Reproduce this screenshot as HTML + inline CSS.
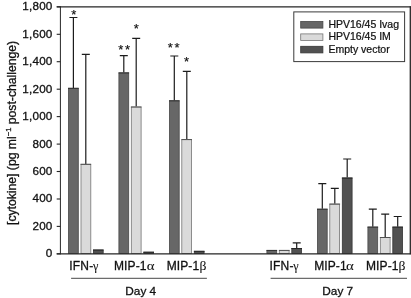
<!DOCTYPE html>
<html><head><meta charset="utf-8"><title>Cytokine chart</title>
<style>
html,body{margin:0;padding:0;background:#fff;}
svg{display:block;will-change:transform;}
text{font-family:"Liberation Sans",sans-serif;fill:#111;stroke:#111;stroke-width:0.3px;}
.as text{stroke-width:0.15px;}
.lg text{stroke-width:0.22px;}
text.gk{font-family:"Liberation Serif",serif;stroke-width:0.05px;}
</style></head><body>
<svg width="411" height="298" viewBox="0 0 411 298">
<rect width="411" height="298" fill="#fff"/>
<path d="M73.4 87.9V17.5M69.4 17.5H77.4" stroke="#1c1c1c" stroke-width="1.2" fill="none"/>
<rect x="68.5" y="88.3" width="9.8" height="165.2" fill="#676767" stroke="#484848" stroke-width="0.8"/>
<path d="M68.1 88.3H78.7" stroke="#2a2a2a" stroke-width="0.9"/>
<path d="M85.8 163.9V54.4M81.8 54.4H89.8" stroke="#1c1c1c" stroke-width="1.2" fill="none"/>
<rect x="81.0" y="164.3" width="9.8" height="89.2" fill="#dadada" stroke="#757575" stroke-width="0.8"/>
<path d="M80.5 164.3H91.1" stroke="#4a4a4a" stroke-width="0.9"/>
<rect x="93.4" y="250.0" width="9.8" height="3.5" fill="#515151" stroke="#363636" stroke-width="0.8"/>
<path d="M93.0 250.0H103.6" stroke="#222222" stroke-width="0.9"/>
<path d="M123.8 72.5V55.7M119.8 55.7H127.8" stroke="#1c1c1c" stroke-width="1.2" fill="none"/>
<rect x="118.9" y="72.9" width="9.8" height="180.6" fill="#676767" stroke="#484848" stroke-width="0.8"/>
<path d="M118.5 72.9H129.1" stroke="#2a2a2a" stroke-width="0.9"/>
<path d="M136.2 106.6V38.4M132.2 38.4H140.2" stroke="#1c1c1c" stroke-width="1.2" fill="none"/>
<rect x="131.3" y="107.0" width="9.8" height="146.5" fill="#dadada" stroke="#757575" stroke-width="0.8"/>
<path d="M130.9 107.0H141.5" stroke="#4a4a4a" stroke-width="0.9"/>
<rect x="143.8" y="252.2" width="9.8" height="1.3" fill="#515151" stroke="#363636" stroke-width="0.8"/>
<path d="M143.4 252.2H154.0" stroke="#222222" stroke-width="0.9"/>
<path d="M174.3 100.4V56.0M170.3 56.0H178.3" stroke="#1c1c1c" stroke-width="1.2" fill="none"/>
<rect x="169.4" y="100.8" width="9.8" height="152.7" fill="#676767" stroke="#484848" stroke-width="0.8"/>
<path d="M169.0 100.8H179.6" stroke="#2a2a2a" stroke-width="0.9"/>
<path d="M186.8 139.2V71.3M182.8 71.3H190.8" stroke="#1c1c1c" stroke-width="1.2" fill="none"/>
<rect x="181.8" y="139.6" width="9.8" height="113.9" fill="#dadada" stroke="#757575" stroke-width="0.8"/>
<path d="M181.4 139.6H192.0" stroke="#4a4a4a" stroke-width="0.9"/>
<rect x="194.3" y="251.3" width="9.8" height="2.2" fill="#515151" stroke="#363636" stroke-width="0.8"/>
<path d="M193.9 251.3H204.5" stroke="#222222" stroke-width="0.9"/>
<rect x="266.9" y="250.4" width="9.8" height="3.1" fill="#676767" stroke="#484848" stroke-width="0.8"/>
<path d="M266.5 250.4H277.1" stroke="#2a2a2a" stroke-width="0.9"/>
<rect x="279.3" y="250.4" width="9.8" height="3.1" fill="#dadada" stroke="#757575" stroke-width="0.8"/>
<path d="M278.9 250.4H289.6" stroke="#4a4a4a" stroke-width="0.9"/>
<path d="M296.7 248.1V242.8M292.7 242.8H300.7" stroke="#1c1c1c" stroke-width="1.2" fill="none"/>
<rect x="291.8" y="248.5" width="9.8" height="5.0" fill="#515151" stroke="#363636" stroke-width="0.8"/>
<path d="M291.4 248.5H302.0" stroke="#222222" stroke-width="0.9"/>
<path d="M322.3 208.8V183.6M318.3 183.6H326.3" stroke="#1c1c1c" stroke-width="1.2" fill="none"/>
<rect x="317.4" y="209.2" width="9.8" height="44.3" fill="#676767" stroke="#484848" stroke-width="0.8"/>
<path d="M317.0 209.2H327.6" stroke="#2a2a2a" stroke-width="0.9"/>
<path d="M334.8 203.7V188.3M330.8 188.3H338.8" stroke="#1c1c1c" stroke-width="1.2" fill="none"/>
<rect x="329.8" y="204.1" width="9.8" height="49.4" fill="#dadada" stroke="#757575" stroke-width="0.8"/>
<path d="M329.4 204.1H340.1" stroke="#4a4a4a" stroke-width="0.9"/>
<path d="M347.2 177.6V159.0M343.2 159.0H351.2" stroke="#1c1c1c" stroke-width="1.2" fill="none"/>
<rect x="342.3" y="178.0" width="9.8" height="75.5" fill="#515151" stroke="#363636" stroke-width="0.8"/>
<path d="M341.9 178.0H352.5" stroke="#222222" stroke-width="0.9"/>
<path d="M372.8 226.7V209.1M368.8 209.1H376.8" stroke="#1c1c1c" stroke-width="1.2" fill="none"/>
<rect x="367.9" y="227.1" width="9.8" height="26.4" fill="#676767" stroke="#484848" stroke-width="0.8"/>
<path d="M367.5 227.1H378.1" stroke="#2a2a2a" stroke-width="0.9"/>
<path d="M385.2 237.1V214.1M381.2 214.1H389.2" stroke="#1c1c1c" stroke-width="1.2" fill="none"/>
<rect x="380.3" y="237.5" width="9.8" height="16.0" fill="#dadada" stroke="#757575" stroke-width="0.8"/>
<path d="M379.9 237.5H390.6" stroke="#4a4a4a" stroke-width="0.9"/>
<path d="M397.7 226.7V216.5M393.7 216.5H401.7" stroke="#1c1c1c" stroke-width="1.2" fill="none"/>
<rect x="392.8" y="227.1" width="9.8" height="26.4" fill="#515151" stroke="#363636" stroke-width="0.8"/>
<path d="M392.4 227.1H403.0" stroke="#222222" stroke-width="0.9"/>
<!-- axes frame -->
<path d="M60.4 6.3V254.3" fill="none" stroke="#262626" stroke-width="1"/>
<path d="M56.7 6.9H410.9M56.7 253.8H410.9" fill="none" stroke="#262626" stroke-width="1.15"/>
<path d="M410.3 6.3V254.3" fill="none" stroke="#262626" stroke-width="1.3"/>
<path d="M56.7 253.8H60.4" stroke="#262626" stroke-width="1.1"/>
<text x="52.6" y="257.2" text-anchor="end" font-size="11.7" letter-spacing="0.22">0</text>
<path d="M56.7 226.4H60.4" stroke="#262626" stroke-width="1.1"/>
<text x="52.6" y="229.8" text-anchor="end" font-size="11.7" letter-spacing="0.22">200</text>
<path d="M56.7 199.0H60.4" stroke="#262626" stroke-width="1.1"/>
<text x="52.6" y="202.4" text-anchor="end" font-size="11.7" letter-spacing="0.22">400</text>
<path d="M56.7 171.5H60.4" stroke="#262626" stroke-width="1.1"/>
<text x="52.6" y="174.9" text-anchor="end" font-size="11.7" letter-spacing="0.22">600</text>
<path d="M56.7 144.1H60.4" stroke="#262626" stroke-width="1.1"/>
<text x="52.6" y="147.5" text-anchor="end" font-size="11.7" letter-spacing="0.22">800</text>
<path d="M56.7 116.6H60.4" stroke="#262626" stroke-width="1.1"/>
<text x="52.6" y="120.0" text-anchor="end" font-size="11.7" letter-spacing="0.22">1,000</text>
<path d="M56.7 89.2H60.4" stroke="#262626" stroke-width="1.1"/>
<text x="52.6" y="92.6" text-anchor="end" font-size="11.7" letter-spacing="0.22">1,200</text>
<path d="M56.7 61.7H60.4" stroke="#262626" stroke-width="1.1"/>
<text x="52.6" y="65.1" text-anchor="end" font-size="11.7" letter-spacing="0.22">1,400</text>
<path d="M56.7 34.3H60.4" stroke="#262626" stroke-width="1.1"/>
<text x="52.6" y="37.7" text-anchor="end" font-size="11.7" letter-spacing="0.22">1,600</text>
<path d="M56.7 6.8H60.4" stroke="#262626" stroke-width="1.1"/>
<text x="52.6" y="10.2" text-anchor="end" font-size="11.7" letter-spacing="0.22">1,800</text>
<!-- y title -->
<text transform="translate(15.8 225) rotate(-90)" font-size="12.2">[cytokine] (pg ml<tspan font-size="7.6" dy="-5.2">−1</tspan><tspan dy="5.2"> post-challenge)</tspan></text>
<!-- x labels -->
<g font-size="12" letter-spacing="0.1">
<text x="69.3" y="270.25" letter-spacing="0.2">IFN-</text>
<text x="114" y="270.25">MIP-1</text>
<text x="166.7" y="270.25">MIP-1</text>
<text x="269.5" y="270.25" letter-spacing="0.2">IFN-</text>
<text x="314.2" y="270.25">MIP-1</text>
<text x="366" y="270.25">MIP-1</text>
<text x="125.3" y="294.8" letter-spacing="0" font-size="11.8">Day 4</text>
<text x="322.3" y="294.8" letter-spacing="0" font-size="11.8">Day 7</text>
</g>
<g letter-spacing="0">
<text class="gk" transform="translate(93.1 270.0) scale(1 1)" font-size="12.2">γ</text>
<text class="gk" transform="translate(146.7 270.3) scale(1.22 1)" font-size="12.1">α</text>
<text class="gk" transform="translate(199.4 270.4) scale(1.18 1)" font-size="11.6">β</text>
<text class="gk" transform="translate(293.3 270.0) scale(1 1)" font-size="12.2">γ</text>
<text class="gk" transform="translate(346.1 270.3) scale(1.22 1)" font-size="12.1">α</text>
<text class="gk" transform="translate(398.4 270.4) scale(1.18 1)" font-size="11.6">β</text>
</g>
<path d="M71.1 278.3H206.9M270.6 278.3H407" stroke="#333" stroke-width="0.9"/>
<!-- asterisks -->
<g class="as" font-size="13" text-anchor="middle">
<text x="73.8" y="18.5">*</text>
<text x="120.8" y="53.5">*</text>
<text x="127.6" y="53.5">*</text>
<text x="136.3" y="32.7">*</text>
<text x="170.4" y="52.4">*</text>
<text x="177.1" y="52.4">*</text>
<text x="186.6" y="66.0">*</text>
</g>
<!-- legend -->
<rect x="293.8" y="11.9" width="110.8" height="49.7" fill="#fff" stroke="#3a3a3a" stroke-width="1"/>
<rect x="300.7" y="21.5" width="22.2" height="6.6" fill="#676767" stroke="#484848" stroke-width="0.8"/>
<rect x="300.7" y="33.9" width="22.2" height="6.6" fill="#dadada" stroke="#757575" stroke-width="0.8"/>
<rect x="300.7" y="46.3" width="22.2" height="6.6" fill="#515151" stroke="#363636" stroke-width="0.8"/>
<g class="lg" font-size="10.5">
<text x="328.4" y="28.1">HPV16/45 Ivag</text>
<text x="328.4" y="40.4">HPV16/45 IM</text>
<text x="328.4" y="52.8">Empty vector</text>
</g>
</svg>
</body></html>
